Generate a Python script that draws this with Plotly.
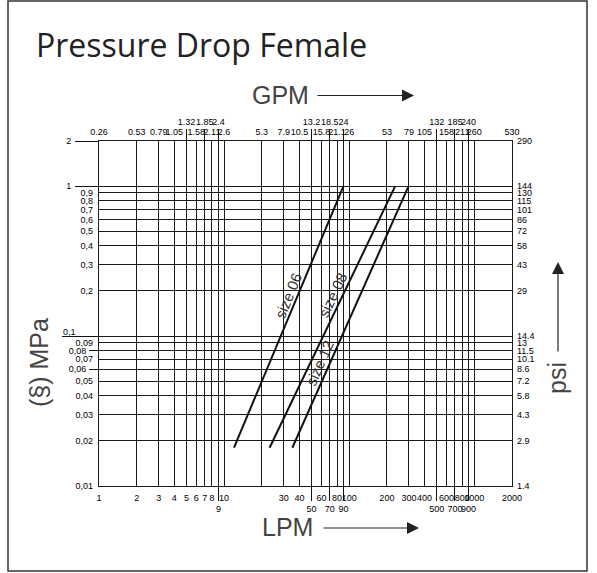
import numpy as np
import plotly.graph_objects as go

# ---------------- data ----------------
lpm_grid = [1, 2, 3, 4, 5, 6, 7, 8, 9, 10, 20, 30, 40, 50, 60, 70, 80, 90, 100,
            200, 300, 400, 500, 600, 700, 800, 900, 1000, 2000]
lpm_labels = ['1', '2', '3', '4', '5', '6', '7', '8', '', '10', '', '30', '40', '', '60', '', '80', '', '100',
              '200', '300', '400', '', '600', '', '800', '', '1000', '2000']
lpm_low_vals = [9, 50, 70, 90, 500, 700, 900]
lpm_low_labels = ['9', '50', '70', '90', '500', '700', '900']

gpm_vals = [1, 2, 3, 4, 6, 8, 10, 20, 30, 40, 60, 80, 100, 200, 300, 400, 600, 800, 1000, 2000]
gpm_labels = ['0.26', '0.53', '0.79', '1.05', '1.58', '2.11', '2.6', '5.3', '7.9', '10.5', '15.8', '21.1', '26',
              '53', '79', '105', '158', '211', '260', '530']
gpm_up_vals = [5, 7, 9, 50, 70, 90, 500, 700, 900]
gpm_up_labels = ['1.32', '1.85', '2.4', '13.2', '18.5', '24', '132', '185', '240']

mpa_grid = [2, 1, 0.9, 0.8, 0.7, 0.6, 0.5, 0.4, 0.3, 0.2, 0.1, 0.09, 0.08, 0.07, 0.06, 0.05, 0.04, 0.03, 0.02, 0.01]
mpa_labels = ['', '', '0,9', '0,8', '0,7', '0,6', '0,5', '0,4', '0,3', '0,2', '', '0,09', '', '0,07', '',
              '0,05', '0,04', '0,03', '0,02', '0,01']
psi_labels = ['290', '144', '130', '115', '101', '86', '72', '58', '43', '29', '14.4', '13', '11.5', '10.1',
              '8.6', '7.2', '5.8', '4.3', '2.9', '1.4']
mpa_long_vals = [2, 1]
mpa_long_labels = ['2', '1']
mpa_mid_vals = [0.08, 0.06]
mpa_mid_labels = ['0,08', '0,06']
mpa_ext_vals = [0.1]
mpa_ext_labels = ['0,1']

size_names = ['size 06', 'size 08', 'size 12']
flow_lpm = [[12.0, 90.0], [23.1, 233.0], [35.1, 298.0]]
drop_mpa = [[0.018, 1.0], [0.018, 1.0], [0.018, 1.0]]
label_frac = [0.57, 0.57, 0.31]

# ---------------- layout geometry ----------------
W, H = 597, 573
ML, MR, MT, MB = 99, 85, 141, 87
PW, PH = W - ML - MR, H - MT - MB
XR = [0.0, float(np.log10(2000))]
YR = [-2.0, float(np.log10(2))]


def px(p):
    return (p - ML) / PW


def py(p):
    return (H - MB - p) / PH


TICKFONT = dict(family='Liberation Sans, Arial, sans-serif', size=9, color='#000')
LABFONT = dict(family='Liberation Sans, Arial, sans-serif', size=25, color='#444')
GRID = '#1a1a1a'

fig = go.Figure()
for name, fx, fy in zip(size_names, flow_lpm, drop_mpa):
    fig.add_trace(go.Scatter(x=fx, y=fy, mode='lines', name=name,
                             line=dict(color='#111', width=2), showlegend=False, hoverinfo='skip'))

# invisible carriers so that the overlaid label axes get drawn
for xa, ya in [('x2', 'y'), ('x3', 'y'), ('x4', 'y'), ('x', 'y2'), ('x', 'y3'), ('x', 'y4'), ('x', 'y5')]:
    fig.add_trace(go.Scatter(x=flow_lpm[0], y=drop_mpa[0], mode='lines', xaxis=xa, yaxis=ya,
                             line=dict(color='rgba(0,0,0,0)', width=0), showlegend=False, hoverinfo='skip'))

base_ax = dict(type='log', showgrid=False, zeroline=False, showline=False, tickfont=TICKFONT,
               tickcolor='#111', tickwidth=1.2, tickmode='array', tickangle=0)

layout = dict(
    width=W, height=H, margin=dict(l=ML, r=MR, t=MT, b=MB),
    paper_bgcolor='white', plot_bgcolor='white', showlegend=False,
    xaxis=dict(base_ax, range=XR, tickvals=lpm_grid, ticktext=lpm_labels, ticks='', showgrid=True,
               gridcolor=GRID, gridwidth=1.2, showline=True, linecolor=GRID, linewidth=1.2, mirror=True,
               ticklabelstandoff=3),
    xaxis3=dict(base_ax, range=XR, overlaying='x', anchor='y', side='bottom', tickvals=lpm_low_vals,
                ticktext=lpm_low_labels, ticks='outside', ticklen=14, ticklabelstandoff=0),
    xaxis2=dict(base_ax, range=XR, overlaying='x', anchor='y', side='top', tickvals=gpm_vals,
                ticktext=gpm_labels, ticks='', ticklabelstandoff=3),
    xaxis4=dict(base_ax, range=XR, overlaying='x', anchor='y', side='top', tickvals=gpm_up_vals,
                ticktext=gpm_up_labels, ticks='outside', ticklen=11, ticklabelstandoff=0),
    yaxis=dict(base_ax, range=YR, tickvals=mpa_grid, ticktext=mpa_labels, ticks='', showgrid=True,
               gridcolor=GRID, gridwidth=1.2, showline=True, linecolor=GRID, linewidth=1.2, mirror=True,
               ticklabelstandoff=3),
    yaxis2=dict(base_ax, range=YR, overlaying='y', anchor='x', side='right', tickvals=mpa_grid,
                ticktext=psi_labels, ticks='', ticklabelstandoff=4),
    yaxis3=dict(base_ax, range=YR, overlaying='y', anchor='x', side='left', tickvals=mpa_long_vals,
                ticktext=mpa_long_labels, ticks='outside', ticklen=23, ticklabelstandoff=2),
    yaxis4=dict(base_ax, range=YR, overlaying='y', anchor='x', side='left', tickvals=mpa_ext_vals,
                ticktext=[''], ticks='outside', ticklen=36),
    yaxis5=dict(base_ax, range=YR, overlaying='y', anchor='x', side='left', tickvals=mpa_mid_vals,
                ticktext=mpa_mid_labels, ticks='outside', ticklen=9, ticklabelstandoff=1),
)
fig.update_layout(**layout)

ann = []
# size labels along each curve
for name, fx, fy, t in zip(size_names, flow_lpm, drop_mpa, label_frac):
    lx0, lx1 = np.log10(fx[0]), np.log10(fx[1])
    ly0, ly1 = np.log10(fy[0]), np.log10(fy[1])
    dxp = (lx1 - lx0) * PW / (XR[1] - XR[0])
    dyp = (ly1 - ly0) * PH / (YR[1] - YR[0])
    L = np.hypot(dxp, dyp)
    ux, uy = dxp / L, dyp / L
    d = 9
    ann.append(dict(x=lx0 + t * (lx1 - lx0), y=ly0 + t * (ly1 - ly0), xref='x', yref='y',
                    text=name, showarrow=False, textangle=-np.degrees(np.arctan2(dyp, dxp)),
                    xanchor='center', yanchor='middle', xshift=-uy * d, yshift=ux * d,
                    font=dict(family='Liberation Sans, Arial, sans-serif', size=15, color='#333')))

C = dict(xanchor='center', yanchor='middle', showarrow=False, xref='paper', yref='paper')
# "0,1" label sitting on its extended line
ann.append(dict(C, x=px(69), y=np.log10(mpa_ext_vals[0]), yref='y', text=mpa_ext_labels[0],
                yshift=4, font=TICKFONT))

# Title
ann.append(dict(C, x=px(34), y=py(44), xanchor='left', text='Pressure Drop Female',
                font=dict(family='Open Sans, sans-serif', size=32, color='#222')))
# Axis titles
ann.append(dict(C, x=px(280), y=py(95), text='GPM', font=LABFONT))
ann.append(dict(C, x=px(287), y=py(527), text='LPM', font=LABFONT))
ann.append(dict(C, x=px(39), y=py(363), text='(§) MPa', textangle=-90, font=LABFONT))
ann.append(dict(C, x=px(557), y=py(378), text='psi', textangle=-90, font=LABFONT))
# Arrows
arrow = dict(text='', showarrow=True, arrowhead=2, arrowsize=2, arrowwidth=1.2, arrowcolor='#222',
             xref='paper', yref='paper', xanchor='center', yanchor='middle')
ann.append(dict(arrow, x=px(414), y=py(95.5), ax=-98, ay=0))
ann.append(dict(arrow, x=px(419), y=py(528), ax=-97, ay=0))
ann.append(dict(arrow, x=px(558), y=py(262), ax=0, ay=91))
fig.update_layout(annotations=ann)

# outer frame
fig.add_shape(type='rect', xref='paper', yref='paper', x0=px(8), x1=px(587), y0=py(571), y1=py(1),
              line=dict(color='#333', width=1.5), layer='above')

fig.write_html('out.html', config={'displayModeBar': False},
               post_script="document.body.style.margin='0';")
